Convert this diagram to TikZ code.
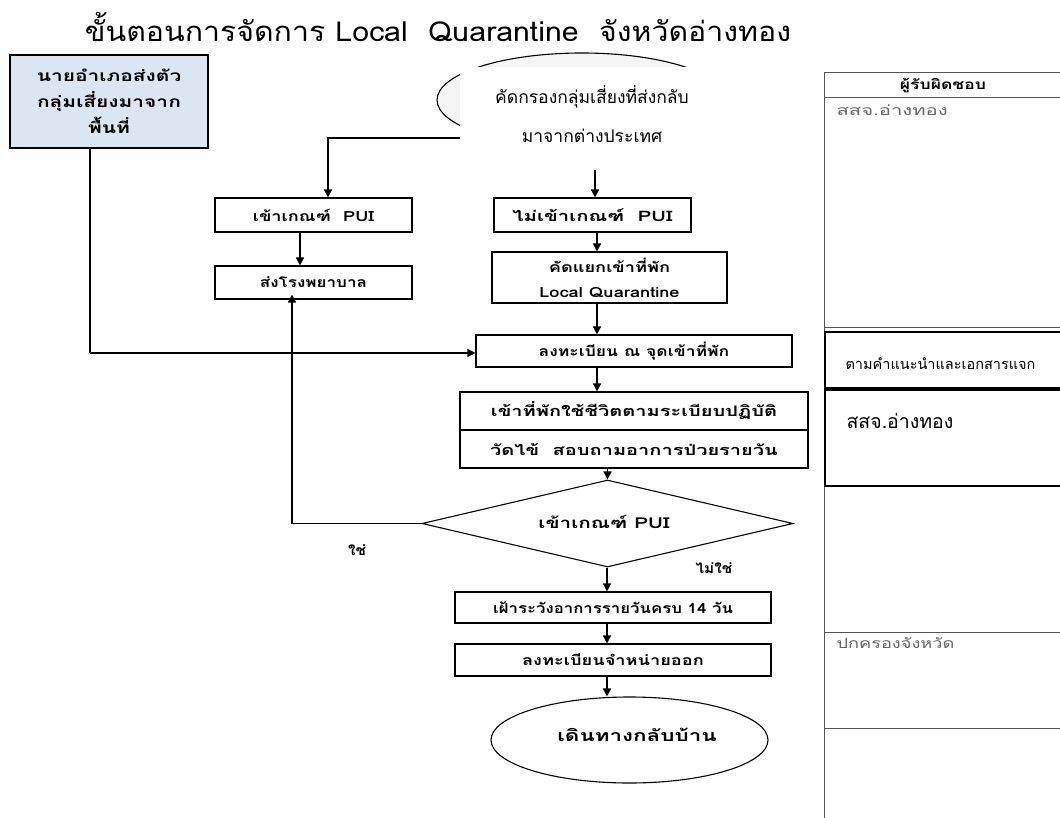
\documentclass[tikz,border=0pt]{standalone}
\usepackage{fontspec}
\setmainfont{Loma}[Script=Thai]
\usetikzlibrary{shapes.geometric,arrows.meta}
\definecolor{boxblue}{HTML}{DCE6F2}
\definecolor{tabline}{HTML}{555555}
\definecolor{tabtext}{HTML}{666666}
\newcommand{\bxfont}[3]{\fontsize{#1}{#3}\selectfont\bfseries\addfontfeature{FakeStretch=#2}}
\newcommand{\rgfont}[2]{\fontsize{#1}{#1}\selectfont\addfontfeature{FakeStretch=#2}}
\tikzset{
  flowbox/.style={draw, line width=1.1pt, inner sep=0pt, align=center, font=\bxfont{14}{1.3}{25}},
  arr/.style={line width=1.4pt, -{Triangle[length=8pt,width=8pt]}},
  plain/.style={line width=1.4pt},
  lbl/.style={font=\bxfont{14}{1.3}{16}},
}
\begin{document}
\begin{tikzpicture}[x=1pt,y=-1pt]
\useasboundingbox (0,0) rectangle (1060,818);
% title
\node[font=\rgfont{27.5}{1.1}] (title) at (438,27) {ขั้นตอนการจัดการ Local\ \ Quarantine\ \ จังหวัดอ่างทอง};
% top ellipse partly covered
\node[ellipse, draw, line width=1.1pt, fill=gray!8, minimum width=290, minimum height=94] (start) at (582,100) {};
\node[fill=white, minimum width=270, minimum height=98, inner sep=0pt] (scr) at (595,116) {};
\node[font=\fontsize{17.5}{39}\selectfont, align=center] (scrtext) at (592,114) {คัดกรองกลุ่มเสี่ยงที่ส่งกลับ\\มาจากต่างประเทศ};
% left blue box
\node[flowbox, fill=boxblue, minimum width=198, minimum height=93, font=\bxfont{15.5}{1.35}{26}] (dist) at (109,101.5) {นายอำเภอส่งตัว\\กลุ่มเสี่ยงมาจาก\\พื้นที่};
% boxes
\node[flowbox, minimum width=197, minimum height=34] (pui) at (313.5,215) {เข้าเกณฑ์\ \ PUI};
\node[flowbox, minimum width=197, minimum height=34, font=\bxfont{14.5}{1.4}{25}] (nopui) at (592.5,215) {ไม่เข้าเกณฑ์\ \ PUI};
\node[flowbox, minimum width=197, minimum height=33, font=\bxfont{14}{1.22}{25}] (hosp) at (313.5,282.5) {ส่งโรงพยาบาล};
\node[flowbox, minimum width=235, minimum height=51] (sep) at (609.5,277.5) {คัดแยกเข้าที่พัก\\Local Quarantine};
\node[flowbox, minimum width=316, minimum height=32, font=\bxfont{14}{1.25}{25}] (reg) at (634,351) {ลงทะเบียน ณ จุดเข้าที่พัก};
\node[flowbox, minimum width=348, minimum height=76] (stay) at (634,430) {};
\draw[line width=1.1pt] (stay.west) -- (stay.east);
\node[lbl, font=\bxfont{14.5}{1.38}{16}] (stay1) at (634,411) {เข้าที่พักใช้ชีวิตตามระเบียบปฏิบัติ};
\node[lbl, font=\bxfont{14.5}{1.38}{16}] (stay2) at (634,449) {วัดไข้\ \ สอบถามอาการป่วยรายวัน};
\node[draw, line width=1.1pt, diamond, minimum width=371, minimum height=87, inner sep=0pt] (dec) at (607.5,523.5) {};
\node[lbl, font=\bxfont{15}{1.38}{16}] (dectext) at (604,522) {เข้าเกณฑ์ PUI};
\node[flowbox, minimum width=316, minimum height=31, font=\bxfont{14}{1.2}{25}] (watch) at (613,607.5) {เฝ้าระวังอาการรายวันครบ 14 วัน};
\node[flowbox, minimum width=316, minimum height=32] (disch) at (613,660) {ลงทะเบียนจำหน่ายออก};
\node[ellipse, draw, line width=1.1pt, minimum width=277, minimum height=86, inner sep=0pt] (home) at (629.5,740) {};
\node[lbl, font=\bxfont{16}{1.4}{16}] (hometext) at (637,735) {เดินทางกลับบ้าน};
% labels
\node[lbl, font=\bxfont{14}{1.1}{16}] (yes) at (357,550) {ใช่};
\node[lbl, font=\bxfont{14}{1.1}{16}] (no) at (714,568) {ไม่ใช่};
% helper coordinates
\coordinate (c138) at (460,138);
\coordinate (x328) at (328,0);
\coordinate (x300) at (300,0);
\coordinate (x597) at (597,0);
\coordinate (x607) at (607,0);
\coordinate (x292) at (292,0);
\coordinate (x90) at (90,0);
\coordinate (y353) at (0,353);
\coordinate (scrout) at (595,170);
% connectors
\draw[arr] (scrout) -- (nopui.north -| scrout);
\draw[arr] (c138) -| (pui.north -| x328);
\draw[arr] (pui.south -| x300) -- (hosp.north -| x300);
\draw[arr] (nopui.south -| x597) -- (sep.north -| x597);
\draw[arr] (sep.south -| x597) -- (reg.north -| x597);
\draw[arr] (reg.south -| x597) -- (stay.north -| x597);
\draw[arr] (stay.south -| dec.north) -- (dec.north);
\draw[arr] (dec.west) -| ([yshift=5pt]hosp.south -| x292);
\draw[plain] (dist.south -| x90) -- (x90 |- y353);
\draw[arr] (x90 |- y353) -- (reg.west |- y353);
\draw[arr] (dec.south -| x607) -- (watch.north -| x607);
\draw[arr] (watch.south -| x607) -- (disch.north -| x607);
\draw[arr] (disch.south -| x607) -- (home.north -| x607);
% responsibility table
\draw[tabline, line width=1pt] (824,818) -- (824,73) -- (1065,73);
\draw[tabline, line width=1pt] (824,98) -- (1065,98);
\draw[tabline, line width=1pt] (824,327) -- (1065,327);
\draw[tabline, line width=1pt] (824,632) -- (1065,632);
\draw[tabline, line width=1pt] (824,728) -- (1065,728);
\node[draw, line width=2pt, minimum width=250, minimum height=56, inner sep=0pt] (guide) at (950,360) {};
\node[draw, line width=2pt, minimum width=250, minimum height=96, inner sep=0pt] (ppho) at (950,438) {};
\node[font=\bxfont{13.5}{1.3}{16}] (head) at (943,86) {ผู้รับผิดชอบ};
\node[font=\rgfont{14}{1.45}, text=tabtext, anchor=west] (r1) at (833,110) {สสจ.อ่างทอง};
\node[font=\rgfont{14.5}{1.0}, anchor=west] (r2) at (842,364) {ตามคำแนะนำและเอกสารแจก};
\node[font=\rgfont{19.5}{1.0}, anchor=west] (r3) at (843,421) {สสจ.อ่างทอง};
\node[font=\rgfont{14}{1.3}, text=tabtext, anchor=west] (r4) at (833,643) {ปกครองจังหวัด};
\end{tikzpicture}
\end{document}
